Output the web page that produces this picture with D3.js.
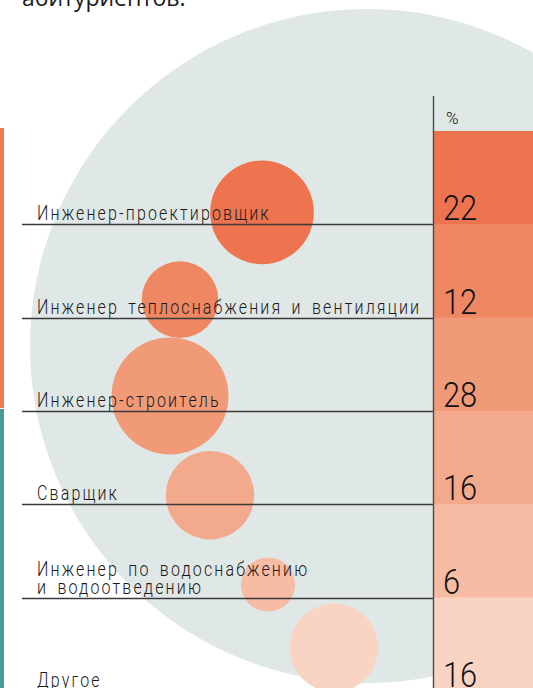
<!DOCTYPE html>
<html>
<head>
<meta charset="utf-8">
<script src="https://cdn.jsdelivr.net/npm/d3@7"></script>
<style>
  body { margin: 0; background: #fff; }
  svg { display: block; }
</style>
</head>
<body>
<div id="chart"></div>
<script>
// data
var categories = ["Инженер-проектировщик", "Инженер теплоснабжения и вентиляции", "Инженер-строитель",
                  "Сварщик", "Инженер по водоснабжению\nи водоотведению", "Другое"];
var values = [22, 12, 28, 16, 6, 16];
var unitLabel = "%";
var titleTail = "абитуриентов.";

// styles / layout
var rowColors = ["#ee7450", "#ef8762", "#f19a78", "#f3aa8c", "#f6bca4", "#f9d4c3"];
var bubbleX = [262, 180, 170, 210, 268, 334];   // bubble centre x
var bubbleDy = [-12, -18, -15, -9, -13, -43];   // bubble centre relative to row line

var width = 533, height = 688;
var axisX = 433;

var svg = d3.select("#chart").append("svg")
    .attr("width", width)
    .attr("height", height);

// big grey circle in the background
svg.append("circle")
    .attr("cx", 367)
    .attr("cy", 346)
    .attr("r", 337)
    .style("fill", "#e0e8e7");

// cropped title line at the top
svg.append("text")
    .attr("x", 22)
    .attr("y", 6)
    .style("font-family", "'Open Sans', sans-serif")
    .style("font-size", "23px")
    .style("fill", "#1a1a1a")
    .text(titleTail);

// left accent bars
svg.append("rect").attr("x", 0).attr("y", 128).attr("width", 4).attr("height", 280).style("fill", "#ef7a56");
svg.append("rect").attr("x", 0).attr("y", 409).attr("width", 4).attr("height", 290).style("fill", "#4b9a97");

var y = d3.scaleBand()
    .domain(categories)
    .range([131, 131 + 93.3 * categories.length]);

var r = d3.scaleSqrt()
    .domain([0, 28])
    .range([0, 58.5]);

// coloured value bands on the right
svg.selectAll(".band")
    .data(categories)
    .enter().append("rect")
        .attr("class", "band")
        .attr("x", axisX)
        .attr("y", function(d) { return y(d); })
        .attr("width", width - axisX)
        .attr("height", y.bandwidth() + 0.5)
        .style("fill", function(d, i) { return rowColors[i]; });

// bubbles
svg.selectAll(".bubble")
    .data(values)
    .enter().append("circle")
        .attr("class", "bubble")
        .attr("cx", function(d, i) { return bubbleX[i]; })
        .attr("cy", function(d, i) { return y(categories[i]) + y.bandwidth() + bubbleDy[i]; })
        .attr("r", function(d) { return r(d); })
        .style("fill", function(d, i) { return rowColors[i]; });

// row lines
svg.selectAll(".rowline")
    .data(categories.slice(0, categories.length - 1))
    .enter().append("line")
        .attr("class", "rowline")
        .attr("x1", 22)
        .attr("x2", axisX)
        .attr("y1", function(d) { return Math.round(y(d) + y.bandwidth()) + 0.5; })
        .attr("y2", function(d) { return Math.round(y(d) + y.bandwidth()) + 0.5; })
        .style("stroke", "#3a3a3a")
        .style("stroke-width", 1.4);

// vertical axis line
svg.append("line")
    .attr("x1", axisX + 0.5).attr("x2", axisX + 0.5)
    .attr("y1", 96).attr("y2", height)
    .style("stroke", "#4a4a4a")
    .style("stroke-width", 1.4);

// category labels (condensed, letter-spaced)
var labelG = svg.selectAll(".label")
    .data(categories)
    .enter().append("text")
        .attr("class", "label")
        .attr("transform", function(d) {
            var lines = d.split("\n");
            var base = y(d) + y.bandwidth() - 4 - (lines.length - 1) * 18;
            return "translate(37," + base + ") scale(0.8,1)";
        })
        .style("font-family", "Roboto, sans-serif")
        .style("font-weight", 300)
        .style("font-size", "20px")
        .style("letter-spacing", "2.7px")
        .style("word-spacing", "4px")
        .style("fill", "#1a1a1a");

labelG.selectAll("tspan")
    .data(function(d) { return d.split("\n"); })
    .enter().append("tspan")
        .attr("x", 0)
        .attr("dy", function(d, i) { return i ? 18 : 0; })
        .text(function(d) { return d; });

// values
svg.selectAll(".value")
    .data(values)
    .enter().append("text")
        .attr("class", "value")
        .attr("transform", function(d, i) {
            return "translate(443," + (y(categories[i]) + y.bandwidth() - 4) + ") scale(0.88,1)";
        })
        .style("font-family", "Roboto, sans-serif")
        .style("font-weight", 300)
        .style("font-size", "35px")
        .style("fill", "#111")
        .text(function(d) { return d; });

svg.append("text")
    .attr("x", 446)
    .attr("y", 124)
    .style("font-family", "Roboto, sans-serif")
    .style("font-weight", 300)
    .style("font-size", "17px")
    .style("fill", "#111")
    .text(unitLabel);
</script>
</body>
</html>
